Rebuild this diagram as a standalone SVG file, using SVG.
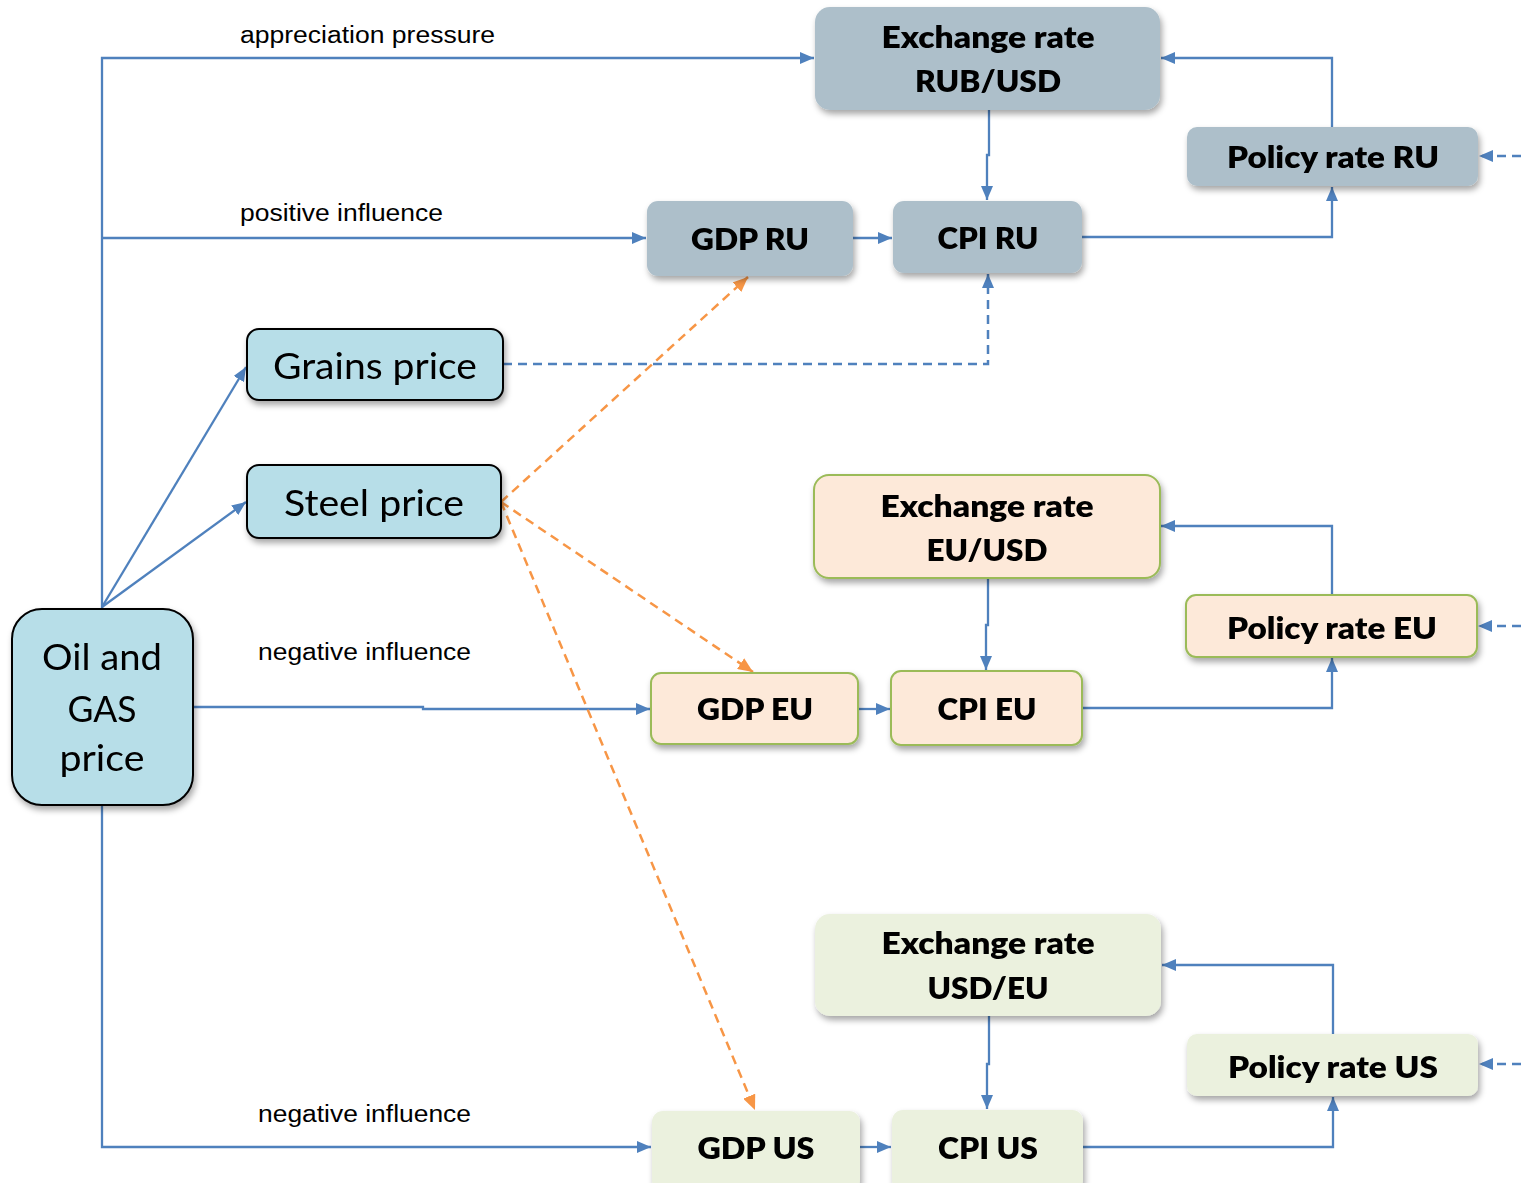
<svg xmlns="http://www.w3.org/2000/svg" width="1521" height="1183" viewBox="0 0 1521 1183">
  <style>
    .bold { font-family: Lato, "Open Sans", "Liberation Sans", sans-serif; font-weight: 800; font-size: 31px; fill: #000; text-anchor: middle; }
    .reg { font-family: Lato, "Open Sans", "Liberation Sans", sans-serif; font-weight: 400; font-size: 37px; fill: #000; text-anchor: middle; }
    .lbl { font-family: "Liberation Sans", Arial, sans-serif; font-size: 23px; fill: #000; }
    .ru { fill: #adbfca; }
    .eu { fill: #fde9d9; stroke: #9bbb59; stroke-width: 2; }
    .us { fill: #ebf1de; }
    .src { fill: #b7dee8; stroke: #000; stroke-width: 2; }
    .ln { fill: none; stroke: #4f81bd; stroke-width: 2.3; }
    .dash { fill: none; stroke: #4f81bd; stroke-width: 2.5; stroke-dasharray: 9 6; }
    .or { fill: none; stroke: #f79646; stroke-width: 2.5; stroke-dasharray: 9 6; }
  </style>
  <defs>
    <filter id="sh" x="-10%" y="-10%" width="130%" height="140%">
      <feDropShadow dx="2" dy="4" stdDeviation="3" flood-color="#000" flood-opacity="0.35"/>
    </filter>
    <marker id="ab" viewBox="0 0 14 12" refX="14" refY="6" markerWidth="14" markerHeight="12" markerUnits="userSpaceOnUse" orient="auto">
      <path d="M0,0 L14,6 L0,12 Z" fill="#4f81bd"/>
    </marker>
    <marker id="ao" viewBox="0 0 15 13" refX="15" refY="6.5" markerWidth="15" markerHeight="13" markerUnits="userSpaceOnUse" orient="auto">
      <path d="M0,0 L15,6.5 L0,13 Z" fill="#f79646"/>
    </marker>
  </defs>

  <!-- connectors -->
  <g id="connectors">
    <!-- from oil and gas price -->
    <polyline class="ln" points="102,609 102,58 814,58" marker-end="url(#ab)"/>
    <polyline class="ln" points="102,238 646,238" marker-end="url(#ab)"/>
    <line class="ln" x1="102" y1="607" x2="246" y2="367" marker-end="url(#ab)"/>
    <line class="ln" x1="102" y1="607" x2="246" y2="502" marker-end="url(#ab)"/>
    <polyline class="ln" points="193,707 423,707 423,709 650,709" marker-end="url(#ab)"/>
    <polyline class="ln" points="102,805 102,1147 651,1147" marker-end="url(#ab)"/>

    <!-- RU block -->
    <polyline class="ln" points="853,238 892,238" marker-end="url(#ab)"/>
    <polyline class="ln" points="989,110 989,155 987,155 987,200" marker-end="url(#ab)"/>
    <polyline class="ln" points="1082,237 1332,237 1332,187" marker-end="url(#ab)"/>
    <polyline class="ln" points="1332,127 1332,58 1161,58" marker-end="url(#ab)"/>
    <line class="dash" x1="1521" y1="156" x2="1479" y2="156" marker-end="url(#ab)"/>
    <polyline class="dash" points="503,364 988,364 988,274" marker-end="url(#ab)"/>

    <!-- EU block -->
    <polyline class="ln" points="858,709 890,709" marker-end="url(#ab)"/>
    <polyline class="ln" points="988,578 988,625 986,625 986,670" marker-end="url(#ab)"/>
    <polyline class="ln" points="1082,708 1332,708 1332,658" marker-end="url(#ab)"/>
    <polyline class="ln" points="1332,595 1332,526 1161,526" marker-end="url(#ab)"/>
    <line class="dash" x1="1521" y1="626" x2="1478" y2="626" marker-end="url(#ab)"/>

    <!-- US block -->
    <polyline class="ln" points="860,1147 891,1147" marker-end="url(#ab)"/>
    <polyline class="ln" points="989,1016 989,1064 987,1064 987,1109" marker-end="url(#ab)"/>
    <polyline class="ln" points="1083,1147 1333,1147 1333,1097" marker-end="url(#ab)"/>
    <polyline class="ln" points="1333,1034 1333,965 1162,965" marker-end="url(#ab)"/>
    <line class="dash" x1="1521" y1="1064" x2="1479" y2="1064" marker-end="url(#ab)"/>

    <!-- steel price spill-overs -->
    <line class="or" x1="501" y1="502" x2="748" y2="277" marker-end="url(#ao)"/>
    <line class="or" x1="501" y1="502" x2="753" y2="672" marker-end="url(#ao)"/>
    <line class="or" x1="501" y1="502" x2="755" y2="1110" marker-end="url(#ao)"/>
  </g>

  <!-- edge labels -->
  <g id="labels">
    <text class="lbl" x="240" y="43" textLength="255" lengthAdjust="spacingAndGlyphs">appreciation pressure</text>
    <text class="lbl" x="240" y="221" textLength="203" lengthAdjust="spacingAndGlyphs">positive influence</text>
    <text class="lbl" x="258" y="660" textLength="213" lengthAdjust="spacingAndGlyphs">negative influence</text>
    <text class="lbl" x="258" y="1122" textLength="213" lengthAdjust="spacingAndGlyphs">negative influence</text>
  </g>

  <!-- Russia -->
  <g id="exchange-rub-usd" filter="url(#sh)">
    <rect class="ru" x="815" y="7" width="345" height="103" rx="15"/>
    <text class="bold" x="988" y="48" textLength="213" lengthAdjust="spacingAndGlyphs">Exchange rate</text>
    <text class="bold" x="988" y="92" textLength="146" lengthAdjust="spacingAndGlyphs">RUB/USD</text>
  </g>
  <g id="policy-ru" filter="url(#sh)">
    <rect class="ru" x="1187" y="127" width="291" height="59" rx="10"/>
    <text class="bold" x="1333" y="168" textLength="212" lengthAdjust="spacingAndGlyphs">Policy rate RU</text>
  </g>
  <g id="gdp-ru" filter="url(#sh)">
    <rect class="ru" x="647" y="201" width="206" height="75" rx="11"/>
    <text class="bold" x="750" y="250" textLength="118" lengthAdjust="spacingAndGlyphs">GDP RU</text>
  </g>
  <g id="cpi-ru" filter="url(#sh)">
    <rect class="ru" x="893" y="201" width="189" height="72" rx="11"/>
    <text class="bold" x="988" y="249" textLength="101" lengthAdjust="spacingAndGlyphs">CPI RU</text>
  </g>

  <!-- commodity prices -->
  <g id="grains" filter="url(#sh)">
    <rect class="src" x="247" y="329" width="256" height="71" rx="12"/>
    <text class="reg" x="375" y="379" textLength="204" lengthAdjust="spacingAndGlyphs">Grains price</text>
  </g>
  <g id="steel" filter="url(#sh)">
    <rect class="src" x="247" y="465" width="254" height="73" rx="12"/>
    <text class="reg" x="374" y="516" textLength="180" lengthAdjust="spacingAndGlyphs">Steel price</text>
  </g>
  <g id="oil-gas" filter="url(#sh)">
    <rect class="src" x="12" y="609" width="181" height="196" rx="30"/>
    <text class="reg" x="102" y="670" textLength="120" lengthAdjust="spacingAndGlyphs">Oil and</text>
    <text class="reg" x="102" y="722" textLength="69" lengthAdjust="spacingAndGlyphs">GAS</text>
    <text class="reg" x="102" y="771" textLength="85" lengthAdjust="spacingAndGlyphs">price</text>
  </g>

  <!-- Euro area -->
  <g id="exchange-eu-usd" filter="url(#sh)">
    <rect class="eu" x="814" y="475" width="346" height="103" rx="15"/>
    <text class="bold" x="987" y="517" textLength="213" lengthAdjust="spacingAndGlyphs">Exchange rate</text>
    <text class="bold" x="987" y="561" textLength="121" lengthAdjust="spacingAndGlyphs">EU/USD</text>
  </g>
  <g id="policy-eu" filter="url(#sh)">
    <rect class="eu" x="1186" y="595" width="291" height="62" rx="10"/>
    <text class="bold" x="1332" y="639" textLength="210" lengthAdjust="spacingAndGlyphs">Policy rate EU</text>
  </g>
  <g id="gdp-eu" filter="url(#sh)">
    <rect class="eu" x="651" y="673" width="207" height="71" rx="10"/>
    <text class="bold" x="755" y="720" textLength="116" lengthAdjust="spacingAndGlyphs">GDP EU</text>
  </g>
  <g id="cpi-eu" filter="url(#sh)">
    <rect class="eu" x="891" y="671" width="191" height="74" rx="10"/>
    <text class="bold" x="987" y="720" textLength="99" lengthAdjust="spacingAndGlyphs">CPI EU</text>
  </g>

  <!-- United States -->
  <g id="exchange-usd-eu" filter="url(#sh)">
    <rect class="us" x="815" y="914" width="346" height="102" rx="15"/>
    <text class="bold" x="988" y="954" textLength="213" lengthAdjust="spacingAndGlyphs">Exchange rate</text>
    <text class="bold" x="988" y="999" textLength="121" lengthAdjust="spacingAndGlyphs">USD/EU</text>
  </g>
  <g id="policy-us" filter="url(#sh)">
    <rect class="us" x="1187" y="1034" width="291" height="62" rx="10"/>
    <text class="bold" x="1333" y="1078" textLength="210" lengthAdjust="spacingAndGlyphs">Policy rate US</text>
  </g>
  <g id="gdp-us" filter="url(#sh)">
    <rect class="us" x="652" y="1111" width="208" height="80" rx="11"/>
    <text class="bold" x="756" y="1159" textLength="117" lengthAdjust="spacingAndGlyphs">GDP US</text>
  </g>
  <g id="cpi-us" filter="url(#sh)">
    <rect class="us" x="892" y="1110" width="191" height="81" rx="11"/>
    <text class="bold" x="988" y="1159" textLength="100" lengthAdjust="spacingAndGlyphs">CPI US</text>
  </g>
</svg>
